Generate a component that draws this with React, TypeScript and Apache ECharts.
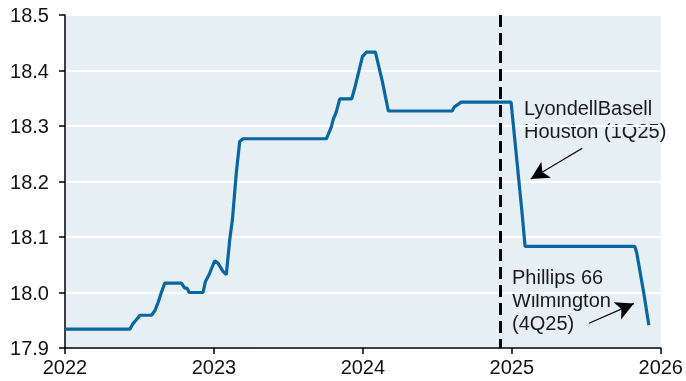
import React, { useEffect, useRef } from "react";
import * as echarts from "echarts";

const years = [
  2022.0, 2022.436, 2022.454, 2022.476, 2022.503, 2022.581, 2022.603, 2022.625, 2022.648, 2022.670,
  2022.782, 2022.804, 2022.820, 2022.833, 2022.927, 2022.943, 2022.967, 2023.005, 2023.027, 2023.061,
  2023.083, 2023.106, 2023.124, 2023.150, 2023.173, 2023.195, 2023.755, 2023.766, 2023.789, 2023.800,
  2023.822, 2023.845, 2023.925, 2023.945, 2023.997, 2024.023, 2024.084, 2024.131, 2024.171, 2024.600,
  2024.613, 2024.660, 2024.995, 2025.069, 2025.089, 2025.826, 2025.839, 2025.886, 2025.920,
];
const capacity = [
  17.934, 17.934, 17.943, 17.950, 17.959, 17.959, 17.967, 17.982, 18.001, 18.017,
  18.017, 18.008, 18.008, 18.000, 18.000, 18.020, 18.032, 18.057, 18.053, 18.038,
  18.032, 18.095, 18.131, 18.215, 18.272, 18.277, 18.277, 18.284, 18.299, 18.311,
  18.326, 18.349, 18.349, 18.368, 18.425, 18.433, 18.433, 18.380, 18.327, 18.327,
  18.334, 18.343, 18.343, 18.143, 18.083, 18.083, 18.071, 17.999, 17.941,
];
const yTicks = [17.9, 18.0, 18.1, 18.2, 18.3, 18.4, 18.5];
const xTicks = [2022, 2023, 2024, 2025, 2026];
const dividerYear = 2024.92;
const lyondellArrow = [[2025.473, 18.26], [2025.127, 18.2045]];
const phillipsArrow = [[2025.518, 17.9445], [2025.819, 17.98]];
const lyondellLabel = ["LyondellBasell", "Houston (1Q25)"];
const phillipsLabel = ["Phillips 66", "Wilmington", "(4Q25)"];

export default function App() {
  const ref = useRef<HTMLDivElement>(null);
  useEffect(() => {
    if (!ref.current) return;
    const chart = echarts.init(ref.current, null, { renderer: "svg" });
    const font = "Arial, 'Liberation Sans', sans-serif";
    chart.setOption({
      animation: false,
      textStyle: { fontFamily: font },
      grid: {
        left: 65, right: 24, top: 15, bottom: 33,
        show: true, backgroundColor: "#e6eff3", borderWidth: 0,
      },
      xAxis: {
        type: "value", min: xTicks[0], max: xTicks[xTicks.length - 1], interval: 1,
        axisLine: { show: true, lineStyle: { color: "#000", width: 1.5 } },
        axisTick: { show: true, length: 6, lineStyle: { color: "#000", width: 1.5 } },
        axisLabel: { color: "#111", fontSize: 20, margin: 9, formatter: (v: number) => String(v) },
        splitLine: { show: false },
      },
      yAxis: {
        type: "value", min: yTicks[0], max: yTicks[yTicks.length - 1], interval: 0.1,
        axisLine: { show: true, lineStyle: { color: "#000", width: 1.5 } },
        axisTick: { show: true, length: 6, lineStyle: { color: "#000", width: 1.5 } },
        axisLabel: { color: "#111", fontSize: 20, margin: 16, formatter: (v: number) => v.toFixed(1) },
        splitLine: { show: true, lineStyle: { color: "#ffffff", width: 2 } },
      },
      series: [
        {
          type: "line",
          data: years.map((y, i) => [y, capacity[i]]),
          showSymbol: false,
          lineStyle: { color: "#0a66a0", width: 3.2 },
          z: 3,
          markLine: {
            silent: true,
            label: { show: false },
            data: [
              [
                { xAxis: dividerYear, yAxis: yTicks[yTicks.length - 1], symbol: "none", lineStyle: { color: "#000", width: 3, type: [12, 6] } },
                { xAxis: dividerYear, yAxis: yTicks[0], symbol: "none" },
              ],
              [
                { coord: lyondellArrow[0], symbol: "none", lineStyle: { color: "#000", width: 1.2, type: "solid" } },
                { coord: lyondellArrow[1], symbol: "arrow", symbolSize: [14, 18] },
              ],
              [
                { coord: phillipsArrow[0], symbol: "none", lineStyle: { color: "#000", width: 1.2, type: "solid" } },
                { coord: phillipsArrow[1], symbol: "arrow", symbolSize: [14, 18] },
              ],
            ],
          },
        },
      ],
      graphic: [
        {
          type: "text", x: 524, y: 96, silent: true,
          style: { text: lyondellLabel.join("\n"), fontSize: 20, lineHeight: 23, fill: "#1a1a1a", fontFamily: font },
        },
        {
          type: "text", x: 512, y: 265, silent: true,
          style: { text: phillipsLabel.join("\n"), fontSize: 20, lineHeight: 23, fill: "#1a1a1a", fontFamily: font },
        },
      ],
    });
    return () => chart.dispose();
  }, []);
  return <div ref={ref} style={{ position: "fixed", left: 0, top: 0, width: 686, height: 381 }} />;
}
